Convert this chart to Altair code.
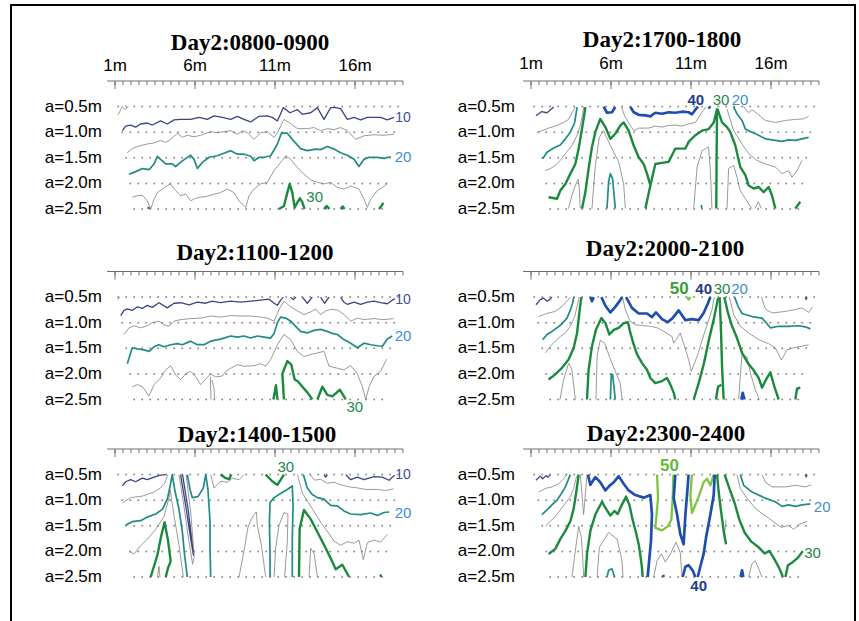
import altair as alt
import numpy as np
import pandas as pd

# ---- measurement grid -------------------------------------------------------
DEPTHS = [0.5, 1.0, 1.5, 2.0, 2.5]
DEPTH_LABELS = ["a=0.5m", "a=1.0m", "a=1.5m", "a=2.0m", "a=2.5m"]
ROW_START = [1.2, 1.45, 1.7, 1.95, 2.2]
ROW_END = [18.7, 18.45, 18.2, 17.95, 17.7]

TICK_MAJOR = [1, 6, 11, 16]
TICK_LABELS = ["1m", "6m", "11m", "16m"]

# contour classes: thin grey intermediates, then 10/20/30/40/50
LEVELS = ["g", "c10", "c20", "c30", "c40", "c50"]
LEVEL_COLORS = ["#808080", "#3a4683", "#1f8c86", "#1c8a3e", "#1e4fae", "#80c342"]
LEVEL_WIDTHS = [0.8, 1.3, 1.7, 2.4, 2.7, 2.3]

NAVY, SKY, GREEN, BLUE = "#3f4e96", "#3b8fd1", "#23884a", "#1f3c8e"

# ---- contour polylines (position m, depth a) ---------------------------------
P0800 = [
    ("g", [(1.19, 0.66), (1.46, 0.50), (1.63, 0.56), (1.84, 0.50)]),
    ("c10", [(1.46, 0.97), (1.67, 0.88), (1.98, 0.86), (2.29, 0.90), (2.60, 0.84), (3.02, 0.82), (3.33, 0.86),
             (3.85, 0.78), (4.27, 0.84), (4.69, 0.76), (5.10, 0.75), (5.73, 0.75), (6.25, 0.71), (6.77, 0.75),
             (7.19, 0.68), (7.71, 0.71), (8.23, 0.75), (8.65, 0.69), (9.06, 0.75), (9.48, 0.80), (10.0, 0.69),
             (10.52, 0.68), (10.83, 0.71), (11.15, 0.78), (11.52, 0.52), (11.94, 0.62), (12.40, 0.56),
             (12.71, 0.65), (13.23, 0.62), (13.65, 0.52), (14.06, 0.75), (14.48, 0.52), (14.79, 0.52),
             (15.10, 0.54), (15.52, 0.75), (15.94, 0.71), (16.35, 0.76), (16.77, 0.71), (17.60, 0.71),
             (18.02, 0.76), (18.44, 0.71)]),
    ("g", [(1.77, 1.40), (2.08, 1.32), (2.50, 1.27), (3.02, 1.23), (3.44, 1.21), (3.85, 1.16), (4.17, 1.20),
           (4.48, 1.14), (4.90, 1.02), (5.21, 1.10), (5.52, 1.06), (5.94, 1.09), (6.35, 1.06), (6.98, 0.99),
           (7.40, 1.01), (7.81, 0.99), (8.23, 0.97), (8.65, 1.04), (8.96, 0.97), (9.27, 1.01), (9.69, 1.14),
           (10.10, 1.01), (10.52, 0.99), (10.94, 1.10), (11.15, 1.01), (11.56, 0.75), (11.88, 0.81),
           (12.40, 0.93), (13.02, 0.93), (13.44, 0.91), (13.85, 0.97), (14.27, 0.93), (14.69, 0.95),
           (15.10, 0.91), (15.52, 0.97), (16.04, 1.14), (16.56, 1.07), (17.19, 1.05), (17.81, 1.06),
           (18.44, 1.04)]),
    ("c20", [(1.88, 1.82), (2.29, 1.77), (2.71, 1.71), (3.13, 1.73), (3.44, 1.62), (3.65, 1.47), (3.85, 1.53),
             (4.17, 1.62), (4.58, 1.62), (4.79, 1.67), (5.21, 1.56), (5.73, 1.45), (5.94, 1.53), (6.15, 1.71),
             (6.46, 1.59), (6.88, 1.49), (7.40, 1.46), (7.81, 1.41), (8.23, 1.36), (8.65, 1.43), (9.06, 1.43),
             (9.48, 1.47), (9.69, 1.56), (10.0, 1.49), (10.31, 1.49), (10.73, 1.46), (11.15, 1.23),
             (11.40, 1.02), (11.77, 1.02), (12.08, 1.14), (12.60, 1.32), (13.02, 1.36), (13.54, 1.33),
             (13.85, 1.34), (14.27, 1.28), (14.69, 1.33), (15.10, 1.40), (15.52, 1.45), (15.94, 1.53),
             (16.25, 1.67), (16.56, 1.53), (16.88, 1.49), (17.40, 1.49), (17.81, 1.51), (18.23, 1.48)]),
    ("g", [(2.08, 2.27), (2.40, 2.24), (2.71, 2.23), (3.02, 2.34), (3.23, 2.50), (3.44, 2.31), (3.65, 2.18),
           (3.96, 2.11), (4.17, 2.06), (4.48, 2.01), (4.79, 2.14), (5.10, 2.24), (5.42, 2.21), (5.73, 2.34),
           (6.04, 2.29), (6.35, 2.27), (6.77, 2.25), (7.19, 2.21), (7.60, 2.18), (8.02, 2.11), (8.44, 2.18),
           (8.75, 2.34), (9.17, 2.47), (9.38, 2.24), (9.69, 2.11), (10.10, 2.01), (10.52, 1.98), (10.94, 1.75),
           (11.35, 1.59), (11.67, 1.46), (11.98, 1.53), (12.40, 1.69), (12.81, 1.82), (13.23, 1.93),
           (13.65, 1.98), (14.06, 2.01), (14.48, 1.98), (14.90, 2.08), (15.31, 2.11), (15.73, 2.05),
           (16.25, 2.11), (16.56, 2.31), (16.77, 2.47), (16.98, 2.31), (17.40, 2.14), (17.71, 2.08),
           (18.02, 2.00)]),
    ("c30", [(11.25, 2.50), (11.56, 2.44), (11.77, 2.18), (11.92, 2.01), (12.08, 2.18), (12.23, 2.47),
             (12.40, 2.37), (12.56, 2.29), (12.71, 2.37), (12.85, 2.50)]),
    ("c30", [(14.06, 2.50), (14.23, 2.44), (14.40, 2.50)]),
    ("c30", [(15.10, 2.50), (15.23, 2.45), (15.35, 2.50)]),
    ("c30", [(17.50, 2.50), (17.65, 2.44), (17.77, 2.38)]),
    ("c30", [(3.08, 2.50), (3.12, 2.46)]),
]

P1700 = [
    ("c10", [(1.31, 0.68), (1.65, 0.60), (2.0, 0.62), (2.42, 0.51)]),
    ("g", [(1.44, 1.0), (1.69, 0.97), (2.10, 0.92), (2.52, 0.88), (3.04, 0.81), (3.35, 0.75), (3.56, 0.62),
           (3.77, 0.51)]),
    ("c20", [(1.73, 1.52), (2.0, 1.39), (2.42, 1.31), (2.83, 1.25), (3.15, 1.13), (3.46, 1.0), (3.73, 0.81),
             (3.88, 0.51)]),
    ("g", [(1.90, 1.75), (2.21, 1.71), (2.52, 1.65), (2.83, 1.55), (3.15, 1.42), (3.56, 1.26), (3.88, 1.06),
           (4.08, 0.87), (4.23, 0.64), (4.29, 0.51)]),
    ("c30", [(2.10, 2.27), (2.63, 2.30), (2.83, 2.14), (3.15, 2.01), (3.46, 1.81), (3.77, 1.62), (3.98, 1.32),
             (4.15, 1.0), (4.29, 0.74), (4.40, 0.51)]),
    ("g", [(3.35, 2.49), (3.56, 2.23), (3.77, 2.04), (3.94, 1.92), (4.02, 2.10), (4.08, 2.49)]),
    ("c30", [(4.19, 2.49), (4.40, 2.17), (4.60, 1.71), (4.81, 1.29), (5.02, 1.0), (5.33, 0.74), (5.65, 0.90),
             (5.96, 1.13), (6.27, 1.03), (6.58, 0.87), (6.79, 0.81), (7.10, 0.97), (7.42, 1.26), (7.73, 1.49),
             (8.04, 1.62), (8.25, 1.81), (8.46, 2.04)]),
    ("c30", [(8.15, 2.49), (8.46, 2.04), (8.77, 1.62), (9.19, 1.60), (9.60, 1.58), (9.81, 1.45), (10.02, 1.32),
             (10.65, 1.32), (10.85, 1.19), (11.27, 1.06), (11.69, 0.97), (12.10, 0.94), (12.42, 0.81),
             (12.63, 0.55), (12.60, 1.50), (12.58, 2.49)]),
    ("c30", [(12.66, 0.55), (12.94, 0.81), (13.25, 0.90), (13.46, 1.0), (13.77, 1.26), (14.08, 1.68),
             (14.40, 1.84), (14.60, 2.04), (14.92, 2.10), (15.23, 2.07), (15.54, 2.17), (15.85, 2.07),
             (16.06, 2.23), (16.27, 2.49)]),
    ("c30", [(17.52, 2.49), (17.83, 2.36)]),
    ("c40", [(5.54, 0.50), (5.75, 0.62), (6.06, 0.61), (6.27, 0.51)]),
    ("c40", [(7.21, 0.51), (7.42, 0.61), (7.73, 0.66), (8.15, 0.67), (8.46, 0.69), (8.77, 0.62), (9.19, 0.64),
             (9.60, 0.61), (10.02, 0.62), (10.44, 0.60), (10.85, 0.61), (11.06, 0.65), (11.27, 0.56),
             (11.44, 0.50)]),
    ("c40", [(12.12, 0.50), (12.17, 0.54)]),
    ("g", [(4.81, 2.49), (5.02, 1.65), (5.27, 1.10), (5.54, 0.97), (5.96, 1.26), (6.48, 1.58), (6.79, 2.01),
           (6.90, 2.49)]),
    ("c20", [(5.75, 2.49), (5.85, 1.97), (5.96, 1.81), (6.10, 1.91), (6.27, 2.49)]),
    ("g", [(6.65, 0.50), (6.85, 0.68), (7.15, 0.84), (7.42, 0.97), (7.73, 0.92), (8.35, 0.92), (8.77, 0.88),
           (9.19, 0.90), (9.60, 0.87), (10.02, 0.86), (10.44, 0.88), (10.85, 0.84), (11.27, 0.81),
           (11.69, 0.61), (11.94, 0.50)]),
    ("g", [(11.17, 2.49), (11.38, 1.68), (11.69, 1.36), (12.10, 1.29), (12.21, 1.75), (12.31, 2.49)]),
    ("c20", [(11.65, 2.42), (11.67, 2.49)]),
    ("c20", [(13.66, 0.50), (13.875, 0.64), (14.19, 0.77), (14.40, 0.94), (14.81, 1.0), (15.23, 1.06),
             (15.65, 1.13), (16.27, 1.16), (16.69, 1.18), (17.10, 1.15), (17.52, 1.16), (17.94, 1.13),
             (18.35, 1.10)]),
    ("g", [(14.29, 0.50), (14.60, 0.62), (14.81, 0.56), (15.23, 0.66), (15.65, 0.77), (16.27, 0.81),
           (16.90, 0.77), (17.52, 0.75), (18.04, 0.74), (18.35, 0.69)]),
    ("g", [(13.25, 0.55), (13.67, 0.97), (14.19, 1.23), (14.60, 1.42), (15.13, 1.55), (15.65, 1.62),
           (16.27, 1.68), (16.69, 1.81), (17.10, 1.75), (17.31, 1.88), (17.63, 1.75), (17.94, 1.55)]),
    ("g", [(13.25, 2.49), (13.35, 1.71), (13.67, 1.65), (13.875, 1.88), (14.08, 2.14), (14.60, 2.40),
           (14.81, 2.49)]),
    ("g", [(15.0, 2.49), (15.2, 2.36), (15.4, 2.49)]),
]

P1100 = [
    ("g", [(1.15, 0.55), (1.31, 0.50)]),
    ("c10", [(1.36, 0.86), (1.56, 0.76), (1.77, 0.73), (2.08, 0.76), (2.40, 0.69), (2.71, 0.72), (3.02, 0.66),
             (3.33, 0.70), (3.75, 0.61), (4.27, 0.71), (4.69, 0.62), (5.10, 0.61), (5.63, 0.65), (6.15, 0.60),
             (6.67, 0.62), (7.08, 0.58), (7.60, 0.61), (8.23, 0.58), (8.85, 0.60), (9.48, 0.58), (10.10, 0.56),
             (10.63, 0.54), (10.94, 0.62), (11.15, 0.66), (11.35, 0.56), (11.52, 0.50)]),
    ("c10", [(11.98, 0.50), (12.15, 0.55), (12.31, 0.50)]),
    ("c10", [(12.71, 0.50), (13.02, 0.62), (13.33, 0.50)]),
    ("c10", [(13.85, 0.50), (14.1, 0.62), (14.38, 0.50)]),
    ("c10", [(15.10, 0.50), (15.31, 0.60), (15.52, 0.64), (15.94, 0.60), (16.35, 0.64), (16.77, 0.60),
             (17.19, 0.58), (17.60, 0.61), (18.02, 0.63), (18.33, 0.56), (18.48, 0.53)]),
    ("g", [(1.56, 1.23), (1.88, 1.10), (2.19, 1.06), (2.60, 1.10), (3.02, 1.06), (3.33, 1.0), (3.75, 0.97),
           (4.06, 1.04), (4.38, 1.07), (4.69, 0.97), (5.10, 0.94), (5.73, 0.92), (6.35, 0.91), (6.98, 0.87),
           (7.60, 0.89), (8.23, 0.86), (8.85, 0.87), (9.48, 0.87), (10.10, 0.89), (10.52, 0.91), (10.94, 0.97),
           (11.25, 0.74), (11.56, 0.58), (11.98, 0.69), (12.40, 0.77), (12.81, 0.84), (13.23, 0.79),
           (13.54, 0.73), (13.85, 0.84), (14.17, 0.77), (14.48, 0.74), (14.90, 0.75), (15.31, 0.84),
           (15.73, 0.97), (16.15, 0.91), (16.56, 0.94), (17.19, 0.92), (17.81, 0.94), (18.40, 0.92)]),
    ("c20", [(1.77, 1.80), (2.08, 1.49), (2.40, 1.51), (2.81, 1.53), (3.13, 1.56), (3.44, 1.47), (3.75, 1.43),
             (4.06, 1.47), (4.48, 1.43), (4.90, 1.41), (5.21, 1.43), (5.73, 1.36), (6.15, 1.43), (6.56, 1.43),
             (6.98, 1.36), (7.60, 1.32), (8.23, 1.26), (8.65, 1.28), (9.06, 1.26), (9.48, 1.30), (9.90, 1.26),
             (10.31, 1.28), (10.73, 1.30), (10.94, 1.21), (11.15, 1.0), (11.35, 0.89), (11.67, 0.91),
             (11.98, 0.97), (12.29, 1.07), (12.60, 1.17), (13.02, 1.20), (13.44, 1.15), (13.85, 1.13),
             (14.27, 1.17), (14.58, 1.21), (14.90, 1.23), (15.31, 1.33), (15.73, 1.40), (16.15, 1.49),
             (16.56, 1.40), (16.98, 1.43), (17.40, 1.45), (17.71, 1.46), (18.02, 1.32), (18.33, 1.26)]),
    ("g", [(2.08, 2.25), (2.40, 2.21), (2.71, 2.25), (3.13, 2.43), (3.44, 2.21), (3.85, 2.08), (4.17, 1.92),
           (4.48, 1.84), (4.79, 2.02), (5.10, 2.11), (5.42, 2.0), (5.73, 1.95), (6.04, 2.05), (6.35, 2.21),
           (6.67, 2.10), (6.98, 2.0), (7.29, 2.06), (7.71, 2.04), (7.92, 1.95), (8.23, 1.89), (8.65, 1.82),
           (9.06, 1.85), (9.69, 1.84), (10.10, 1.80), (10.42, 1.85), (10.73, 1.72), (11.15, 1.43),
           (11.56, 1.23), (11.98, 1.33), (12.40, 1.56), (12.81, 1.66), (13.23, 1.62), (13.65, 1.59),
           (14.06, 1.56), (14.38, 1.85), (14.90, 1.89), (15.31, 1.92), (15.73, 1.84), (16.15, 2.0),
           (16.46, 2.25), (16.67, 2.50), (16.88, 2.25), (17.19, 2.05), (17.60, 1.95), (17.98, 1.71)]),
    ("g", [(6.96, 2.06), (7.0, 2.5)]),
    ("g", [(7.06, 2.12), (7.2, 2.3), (7.22, 2.5)]),
    ("c30", [(10.90, 2.50), (11.06, 2.22), (11.15, 2.50)]),
    ("c30", [(11.56, 2.50), (11.46, 2.0), (11.77, 1.75), (12.02, 1.82), (12.23, 2.11), (12.44, 2.15),
             (12.71, 2.25), (13.02, 2.36), (13.33, 2.50)]),
    ("c30", [(13.65, 2.50), (13.96, 2.25), (14.27, 2.41), (14.58, 2.44), (15.06, 2.31), (15.31, 2.44),
             (15.42, 2.50)]),
]

P2000 = [
    ("c10", [(1.31, 0.65), (1.58, 0.55), (1.79, 0.52), (2.0, 0.58), (2.21, 0.54), (2.31, 0.50)]),
    ("g", [(1.48, 0.88), (1.79, 0.84), (2.10, 0.81), (2.52, 0.78), (2.94, 0.68), (3.25, 0.58), (3.46, 0.50)]),
    ("c20", [(1.73, 1.33), (2.0, 1.23), (2.31, 1.17), (2.63, 1.10), (2.94, 1.02), (3.25, 0.91), (3.46, 0.75),
             (3.60, 0.62), (3.67, 0.50)]),
    ("g", [(1.90, 1.59), (2.21, 1.46), (2.52, 1.36), (2.83, 1.27), (3.15, 1.20), (3.46, 1.07), (3.73, 0.88),
           (3.88, 0.68), (4.02, 0.50)]),
    ("c30", [(2.10, 2.11), (2.52, 2.01), (2.94, 1.88), (3.35, 1.72), (3.67, 1.49), (3.88, 1.20), (4.02, 0.81),
             (4.15, 0.50)]),
    ("g", [(2.81, 2.50), (3.04, 2.11), (3.35, 1.79), (3.56, 1.92), (3.77, 2.50)]),
    ("c30", [(4.50, 2.50), (4.60, 1.92), (4.81, 1.46), (5.06, 1.14), (5.40, 0.91), (5.65, 1.01), (5.90, 1.23),
             (6.17, 1.14), (6.48, 1.10), (6.79, 1.01), (7.06, 0.99), (7.21, 1.20), (7.42, 1.43), (7.63, 1.62),
             (7.94, 1.79), (8.25, 1.92), (8.46, 2.08), (8.77, 2.18), (9.19, 2.14), (9.50, 2.08), (9.71, 2.21),
             (9.92, 2.37), (10.02, 2.50)]),
    ("g", [(5.06, 2.50), (5.13, 1.66), (5.33, 1.34), (5.60, 1.40), (5.90, 1.66), (6.27, 1.95), (6.58, 2.18),
           (6.69, 2.50)]),
    ("c20", [(5.96, 2.50), (6.02, 2.01), (6.10, 2.01), (6.27, 2.50)]),
    ("c40", [(4.71, 0.50), (4.81, 0.58), (4.92, 0.50)]),
    ("c40", [(5.40, 0.50), (5.65, 0.67), (5.96, 0.80), (6.27, 0.69), (6.58, 0.56), (6.69, 0.50)]),
    ("c40", [(6.94, 0.50), (7.31, 0.71), (7.73, 0.82), (8.25, 0.82), (8.56, 0.89), (8.81, 0.80), (9.19, 0.93),
             (9.54, 0.99), (9.85, 0.91), (10.23, 0.76), (10.65, 0.95), (11.06, 0.93), (11.48, 0.95),
             (11.79, 0.81), (12.06, 0.62), (12.21, 0.50)]),
    ("c50", [(10.75, 0.50), (10.85, 0.55), (10.96, 0.50)]),
    ("g", [(6.72, 0.50), (6.90, 0.75), (7.19, 0.97), (7.52, 1.04), (8.04, 1.06), (8.46, 1.07), (8.88, 1.10),
           (9.29, 1.17), (9.81, 1.27), (9.92, 1.40), (10.33, 1.20), (10.85, 1.72), (11.02, 1.95),
           (11.38, 1.66), (11.90, 1.14), (12.31, 0.75), (12.45, 0.50)]),
    ("c30", [(11.17, 2.50), (11.48, 2.18), (11.79, 1.82), (12.10, 1.36), (12.42, 0.94), (12.69, 0.52)]),
    ("c30", [(12.79, 0.50), (12.88, 1.20), (12.94, 1.85), (13.04, 2.50)]),
    ("c30", [(12.56, 2.50), (12.69, 2.25), (12.90, 2.21)]),
    ("c30", [(13.08, 0.50), (13.31, 0.81), (13.56, 1.06), (13.875, 1.30), (14.19, 1.59), (14.56, 1.79),
             (14.92, 1.93), (15.23, 2.08), (15.44, 2.27), (15.69, 2.11), (15.96, 1.97), (16.23, 2.27),
             (16.48, 2.50)]),
    ("c30", [(17.52, 2.50), (17.63, 2.29), (17.83, 2.27)]),
    ("c40", [(14.15, 2.50), (14.23, 2.37), (14.35, 2.50)]),
    ("c20", [(13.73, 0.50), (13.94, 0.68), (14.19, 0.82), (14.81, 0.88), (15.44, 0.91), (15.96, 1.10),
             (16.48, 1.07), (17.10, 1.07), (17.73, 1.06), (18.15, 1.08), (18.46, 1.12)]),
    ("g", [(15.40, 0.50), (15.65, 0.73), (16.06, 0.81), (16.90, 0.78), (17.42, 0.75), (17.94, 0.71),
           (18.35, 0.80), (18.6, 0.69)]),
    ("g", [(13.40, 0.50), (13.67, 0.84), (14.08, 1.07), (14.60, 1.20), (15.23, 1.33), (15.85, 1.41),
           (16.27, 1.49), (16.65, 1.73), (17.0, 1.53), (17.42, 1.49), (17.94, 1.46), (18.35, 1.43)]),
    ("g", [(13.98, 2.50), (14.08, 2.05), (14.19, 1.62), (14.50, 1.67), (14.71, 1.98), (15.02, 2.31),
           (15.27, 2.50)]),
    ("c10", [(18.15, 0.50), (18.2, 0.55), (18.25, 0.50)]),
]

P1400 = [
    ("c10", [(1.46, 0.72), (1.67, 0.64), (1.98, 0.60), (2.29, 0.64), (2.71, 0.57), (3.02, 0.60), (3.44, 0.55),
             (3.85, 0.51), (4.17, 0.50)]),
    ("c10", [(15.42, 0.50), (15.73, 0.60), (16.15, 0.55), (16.56, 0.60), (17.19, 0.54), (17.71, 0.55),
             (18.13, 0.61), (18.48, 0.51)]),
    ("c10", [(14.06, 0.50), (14.17, 0.55), (14.27, 0.50)]),
    ("g", [(5.0, 0.50), (5.3, 1.10), (5.62, 1.80), (5.85, 2.25), (5.95, 2.10), (5.75, 1.30), (5.45, 0.50)]),
    ("c10", [(5.10, 0.50), (5.42, 1.11), (5.73, 1.75), (5.90, 2.07), (5.86, 1.95), (5.58, 1.20), (5.22, 0.50)]),
    ("c20", [(1.65, 1.49), (2.08, 1.42), (2.60, 1.40), (3.02, 1.33), (3.54, 1.27), (3.96, 1.18), (4.27, 0.98),
             (4.48, 0.67), (4.58, 0.50), (4.73, 0.79), (5.0, 1.18), (5.21, 1.62), (5.35, 2.07), (5.52, 2.50)]),
    ("c20", [(5.52, 0.50), (5.69, 0.79), (5.83, 0.95), (6.19, 0.93), (6.52, 0.76), (6.67, 0.50), (6.81, 0.79),
             (6.94, 1.43), (6.94, 1.94), (6.98, 2.50)]),
    ("g", [(1.46, 1.05), (1.98, 0.95), (2.71, 0.92), (3.44, 0.84), (3.85, 0.76), (4.10, 0.67), (4.31, 0.50)]),
    ("g", [(1.875, 2.0), (2.19, 2.05), (2.60, 1.89), (3.02, 1.76), (3.54, 1.57), (4.06, 1.32), (4.38, 0.95),
           (4.45, 0.80), (4.69, 1.30), (5.0, 1.88), (5.27, 2.50)]),
    ("c30", [(3.23, 2.50), (3.65, 2.07), (3.90, 1.68), (4.10, 1.43), (4.31, 1.78), (4.48, 2.19), (4.31, 2.33),
             (4.17, 2.50)]),
    ("g", [(3.65, 2.5), (3.75, 2.29), (3.81, 2.5)]),
    ("g", [(6.98, 0.50), (7.19, 0.76), (7.40, 0.70), (7.60, 0.63), (8.02, 0.65), (8.33, 0.57), (8.75, 0.60),
           (9.06, 0.50)]),
    ("c30", [(7.60, 0.50), (7.92, 0.57), (8.13, 0.59), (8.27, 0.50)]),
    ("c30", [(10.42, 0.50), (10.83, 0.63), (11.15, 0.70), (11.46, 0.55), (11.56, 0.50)]),
    ("c20", [(10.69, 2.50), (10.69, 2.07), (10.65, 1.43), (10.69, 1.05), (10.94, 0.95), (11.35, 0.87),
             (11.77, 0.79), (12.08, 0.72), (12.13, 1.11), (12.08, 1.75), (12.08, 2.50)]),
    ("g", [(10.94, 2.50), (11.04, 1.94), (11.25, 1.49), (11.56, 1.24), (11.81, 1.27), (11.77, 1.81),
           (11.60, 2.50)]),
    ("g", [(8.75, 2.50), (9.06, 2.0), (9.31, 1.53), (9.58, 1.33), (9.83, 1.23), (9.90, 1.50), (10.15, 1.88),
           (10.42, 2.50)]),
    ("c20", [(12.77, 0.50), (13.02, 0.76), (13.33, 0.89), (13.65, 0.95), (14.06, 0.98), (14.48, 1.10),
             (14.90, 1.11), (15.31, 1.21), (15.73, 1.27), (16.35, 1.28), (16.98, 1.25), (17.40, 1.30),
             (17.81, 1.24), (18.13, 1.23)]),
    ("g", [(13.19, 0.50), (13.48, 0.61), (13.85, 0.59), (14.27, 0.67), (14.69, 0.65), (15.10, 0.70),
           (15.63, 0.74), (16.15, 0.76), (16.67, 0.79), (17.40, 0.79), (17.92, 0.81), (18.40, 0.78)]),
    ("g", [(12.40, 0.50), (12.71, 0.86), (13.10, 1.05), (13.50, 1.25), (13.90, 1.45), (14.30, 1.62),
           (14.69, 1.80), (15.10, 1.88), (15.52, 1.81), (15.94, 1.84), (16.25, 1.78), (16.52, 2.16),
           (16.77, 1.83), (17.19, 1.78), (17.60, 1.82), (18.02, 1.67)]),
    ("c30", [(12.50, 2.50), (12.54, 1.56), (12.81, 1.19), (13.23, 1.37), (13.65, 1.62), (14.17, 1.94),
             (14.58, 2.20), (14.79, 2.35), (15.21, 2.26), (15.63, 2.50)]),
    ("g", [(13.13, 2.50), (13.23, 1.94), (13.44, 2.04), (13.65, 2.50)]),
    ("c30", [(17.60, 2.45), (17.62, 2.50)]),
]

P2300 = [
    ("c10", [(1.31, 0.61), (1.58, 0.53), (1.73, 0.58), (1.94, 0.52), (2.06, 0.55), (2.21, 0.50)]),
    ("g", [(1.48, 0.84), (1.90, 0.77), (2.31, 0.74), (2.73, 0.68), (3.04, 0.58), (3.25, 0.50)]),
    ("c20", [(1.69, 1.28), (2.0, 1.19), (2.31, 1.09), (2.63, 1.0), (2.90, 0.87), (3.15, 0.74), (3.35, 0.58),
             (3.46, 0.50)]),
    ("g", [(1.90, 1.51), (2.21, 1.41), (2.52, 1.32), (2.83, 1.19), (3.15, 1.06), (3.46, 0.93), (3.67, 0.77),
           (3.81, 0.58), (3.92, 0.50)]),
    ("c30", [(2.10, 2.05), (2.52, 1.95), (2.83, 1.76), (3.15, 1.60), (3.46, 1.41), (3.67, 1.16), (3.83, 0.84),
             (3.98, 0.50)]),
    ("g", [(3.56, 2.50), (3.77, 1.99), (3.98, 1.51), (4.15, 1.73), (4.23, 2.11), (4.29, 2.50)]),
    ("g", [(4.08, 0.50), (4.29, 1.28), (4.50, 0.50)]),
    ("c30", [(4.40, 2.50), (4.50, 2.05), (4.71, 1.60), (5.02, 1.28), (5.44, 1.03), (5.69, 1.17), (5.96, 1.30),
             (6.21, 1.21), (6.42, 1.27), (6.63, 1.12), (6.94, 0.93), (7.15, 1.09), (7.35, 1.38), (7.56, 1.63),
             (7.73, 1.86), (7.85, 2.11), (7.94, 2.33), (7.98, 2.50)]),
    ("g", [(5.13, 2.50), (5.27, 1.92), (5.85, 1.63), (6.38, 1.76), (6.69, 2.18), (6.75, 2.50)]),
    ("c20", [(5.75, 2.50), (5.85, 2.37), (6.06, 2.34), (6.23, 2.50)]),
    ("c40", [(4.56, 0.50), (4.71, 0.70), (5.02, 0.55), (5.33, 0.65), (5.65, 0.81), (5.90, 0.72), (6.17, 0.65),
             (6.48, 0.53), (6.79, 0.68), (7.10, 0.81), (7.52, 0.90), (8.04, 0.95), (8.46, 0.90), (8.56, 1.28),
             (8.50, 1.79), (8.35, 2.30), (8.29, 2.50)]),
    ("c50", [(8.88, 0.50), (8.94, 0.96), (8.77, 1.54), (9.19, 1.59), (9.56, 1.51), (9.77, 1.38), (9.85, 1.0),
             (9.90, 0.50)]),
    ("c40", [(10.02, 0.50), (9.92, 0.96), (10.13, 1.28), (10.33, 1.66), (10.54, 1.86), (10.65, 1.28),
             (10.75, 0.90), (10.85, 0.50)]),
    ("c50", [(11.06, 0.50), (10.96, 0.90), (11.06, 1.25), (11.48, 0.93), (11.79, 0.65), (12.0, 0.58),
             (12.21, 0.71), (12.42, 0.50)]),
    ("c40", [(12.48, 0.50), (12.42, 0.90), (12.21, 1.28), (11.94, 1.73), (11.79, 2.05), (11.58, 2.30),
             (11.42, 2.50)]),
    ("c40", [(10.48, 2.50), (10.65, 2.30), (10.85, 2.27), (11.10, 2.37), (11.27, 2.50)]),
    ("c40", [(9.25, 2.46), (9.30, 2.50)]),
    ("g", [(8.67, 2.50), (8.88, 2.18), (9.15, 2.05), (9.40, 2.21), (9.71, 2.05), (10.06, 1.82), (10.33, 2.02),
           (10.44, 2.50)]),
    ("c30", [(12.63, 0.50), (12.73, 0.84), (12.88, 1.22), (13.04, 1.60), (13.19, 1.86)]),
    ("c30", [(13.10, 0.50), (13.40, 0.77), (13.73, 1.06), (14.02, 1.38), (14.35, 1.63), (14.77, 1.81),
             (15.23, 1.92), (15.60, 2.04), (15.90, 1.99), (16.23, 2.16), (16.52, 2.33), (16.75, 2.50)]),
    ("c30", [(16.90, 2.50), (17.06, 2.27), (17.35, 2.21), (17.69, 2.12), (17.98, 2.0)]),
    ("g", [(12.98, 1.38), (13.08, 1.73), (13.19, 1.38)]),
    ("g", [(14.6, 2.5), (14.81, 2.24), (15.02, 2.18), (15.23, 2.34), (15.44, 2.5)]),
    ("c40", [(14.1, 2.5), (14.19, 2.37), (14.27, 2.5)]),
    ("g", [(13.875, 0.50), (14.08, 0.77), (14.50, 0.96), (15.02, 1.16), (15.48, 1.27), (15.90, 1.36),
           (16.31, 1.46), (16.65, 1.53), (17.10, 1.49), (17.42, 1.57), (17.77, 1.47), (18.25, 1.41)]),
    ("c20", [(14.08, 0.50), (14.29, 0.71), (14.81, 0.84), (15.65, 0.96), (16.27, 1.03), (16.69, 1.12),
             (17.10, 1.09), (17.52, 1.12), (17.94, 1.09), (18.46, 1.07)]),
    ("g", [(15.44, 0.50), (15.65, 0.65), (16.06, 0.74), (16.90, 0.74), (17.52, 0.71), (18.15, 0.74),
           (18.52, 0.70)]),
    ("c10", [(18.15, 0.50), (18.2, 0.55), (18.25, 0.50)]),
]

# contour value labels: text, position m, depth a, colour, font size, weight
L0800 = [("10", 19.0, 0.72, NAVY, 14, "normal"), ("20", 19.0, 1.49, SKY, 15, "normal"),
         ("30", 13.48, 2.27, GREEN, 15, "normal")]
L1700 = [("40", 11.3, 0.38, BLUE, 15, "bold"), ("30", 12.88, 0.38, GREEN, 15, "normal"),
         ("20", 14.07, 0.38, SKY, 15, "normal")]
L1100 = [("10", 19.0, 0.56, NAVY, 14, "normal"), ("20", 19.0, 1.26, SKY, 15, "normal"),
         ("30", 15.99, 2.65, GREEN, 15, "normal")]
L2000 = [("50", 10.26, 0.35, "#3c9c34", 17, "bold"), ("40", 11.79, 0.35, BLUE, 15, "bold"),
         ("30", 12.94, 0.35, GREEN, 15, "normal"), ("20", 14.03, 0.35, SKY, 15, "normal")]
L1400 = [("10", 19.0, 0.51, NAVY, 14, "normal"), ("20", 19.0, 1.25, SKY, 15, "normal"),
         ("30", 11.67, 0.36, GREEN, 15, "normal")]
L2300 = [("50", 9.66, 0.34, "#67b83a", 17, "bold"), ("40", 11.48, 2.68, BLUE, 15, "bold"),
         ("20", 19.2, 1.13, SKY, 15, "normal"), ("30", 18.6, 2.03, GREEN, 15, "normal")]

# ---- chart construction -------------------------------------------------------
PX_PER_M = 128 / 2.5   # vertical pixels per metre of electrode spacing

grid_df = pd.DataFrame(
    [{"m": float(m), "a": d} for d, s, e in zip(DEPTHS, ROW_START, ROW_END) for m in np.arange(s, e + 0.01, 0.5)]
)
depth_df = pd.DataFrame({"a": DEPTHS, "t": DEPTH_LABELS})
minor_df = pd.DataFrame({"m": np.arange(1.0, 19.01, 0.5)})
major_df = pd.DataFrame({"m": TICK_MAJOR, "t": TICK_LABELS})
axis_df = pd.DataFrame({"m": [0.5], "m2": [19.0]})
one_df = pd.DataFrame({"k": [0]})

colour = alt.Color("lvl:N", scale=alt.Scale(type="ordinal", domain=LEVELS, range=LEVEL_COLORS), legend=None)
stroke = alt.StrokeWidth("lvl:N", scale=alt.Scale(type="ordinal", domain=LEVELS, range=LEVEL_WIDTHS),
                         legend=None)
XS = alt.Scale(domain=[0.5, 19.0], nice=False, zero=False)
X = alt.X("m:Q", scale=XS, axis=None)


def panel(title, contours, labels, tick_y, title_y, title_dx, lpad, height=128, frame=False):
    ys = alt.Scale(domain=[0.0, height / PX_PER_M], reverse=True, nice=False, zero=False)
    Y = alt.Y("a:Q", scale=ys, axis=None)

    recs = []
    for sid, (lvl, pts) in enumerate(contours):
        for k, (m, a) in enumerate(pts):
            recs.append({"seg": sid, "lvl": lvl, "m": m, "a": a, "k": k})
    lines = pd.DataFrame(recs)
    lab = pd.DataFrame(labels, columns=["t", "m", "a", "col", "size", "wt"])

    dots = alt.Chart(grid_df).mark_circle(size=4, color="#8f8f8f", opacity=1).encode(x=X, y=Y)
    row_names = alt.Chart(depth_df).mark_text(font="Liberation Sans", fontSize=17, color="black",
                                              align="right", baseline="middle").encode(
        x=alt.value(-lpad), y=Y, text="t:N")

    thin = alt.Chart(lines[lines.lvl == "g"]).mark_line(strokeJoin="round").encode(
        x=X, y=Y, detail="seg:N", order="k:Q", color=colour, strokeWidth=stroke)
    thick = alt.Chart(lines[lines.lvl != "g"]).mark_line(strokeJoin="round").encode(
        x=X, y=Y, detail="seg:N", order="k:Q", color=colour, strokeWidth=stroke)

    axis_line = alt.Chart(axis_df).mark_rule(color="#707070", strokeWidth=1).encode(
        x=X, x2="m2:Q", y=alt.value(0))
    minor = alt.Chart(minor_df).mark_rule(color="#707070", strokeWidth=1).encode(
        x=X, y=alt.value(0), y2=alt.value(4))
    major = alt.Chart(major_df).mark_rule(color="#707070", strokeWidth=1).encode(
        x=X, y=alt.value(0), y2=alt.value(8))

    head = alt.Chart(pd.DataFrame({"m": [9.75], "t": [title]})).mark_text(
        font="Liberation Serif", fontSize=23, fontWeight="bold", color="black", baseline="alphabetic",
        align="center", dx=title_dx).encode(x=X, y=alt.value(title_y), text="t:N")

    layers = [dots, row_names, thin, thick, axis_line, minor, major, head]
    for wt in ("normal", "bold"):
        sub = lab[lab.wt == wt]
        if len(sub):
            layers.append(alt.Chart(sub).mark_text(font="Liberation Sans", fontWeight=wt, align="center",
                                                   baseline="middle").encode(
                x=X, y=Y, text="t:N", color=alt.Color("col:N", scale=None),
                size=alt.Size("size:Q", scale=None)))
    if tick_y is not None:
        layers.append(alt.Chart(major_df).mark_text(font="Liberation Sans", fontSize=17, color="black",
                                                    baseline="alphabetic").encode(
            x=X, y=alt.value(tick_y), text="t:N"))
    if frame:
        edge = dict(color="black", strokeWidth=2, strokeCap="square")
        layers.append(alt.Chart(one_df).mark_rule(**edge).encode(
            x=alt.value(-96), y=alt.value(-76), y2=alt.value(539)))
        layers.append(alt.Chart(one_df).mark_rule(**edge).encode(
            x=alt.value(748), y=alt.value(-76), y2=alt.value(539)))
        layers.append(alt.Chart(one_df).mark_rule(**edge).encode(
            x=alt.value(-96), x2=alt.value(748), y=alt.value(-76)))

    return alt.layer(*layers).properties(width=296, height=height)


tl = panel("Day2:0800-0900", P0800, L0800, -10, -31, -5, 5, height=140.5, frame=True)
tr = panel("Day2:1700-1800", P1700, L1700, -12, -34, -9, 8, height=140.5)
ml = panel("Day2:1100-1200", P1100, L1100, None, -12, 0, 5)
mr = panel("Day2:2000-2100", P2000, L2000, None, -16, -6, 8)
bl = panel("Day2:1400-1500", P1400, L1400, None, -7, 2, 5)
br = panel("Day2:2300-2400", P2300, L2300, None, -8, -5, 8)

chart = alt.concat(tl, tr, ml, mr, bl, br, columns=2, spacing={"row": 49.5, "column": 120},
                   bounds="flush").properties(
    padding={"left": 9, "top": 3, "right": 0, "bottom": 0},
    background="white",
).configure_view(stroke=None)

chart.save("out.html", embed_options={"renderer": "svg", "actions": False})
